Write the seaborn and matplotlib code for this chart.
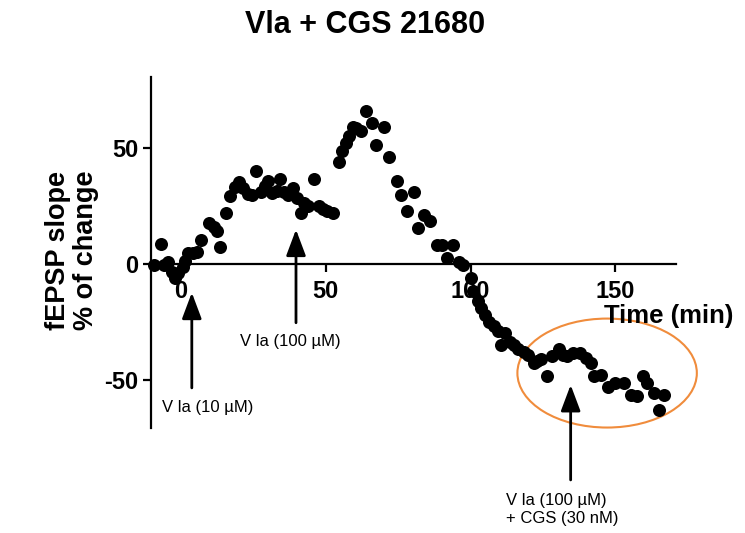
import pandas as pd
import numpy as np
import matplotlib
matplotlib.use('Agg')
import matplotlib.pyplot as plt
from matplotlib.patches import Ellipse
import seaborn as sns

# Data (time in min, fEPSP slope % of change)
time_min = [-9.5, -7.0, -6.0, -4.5, -3.0, -2.0, -1.0, 0.5, 1.5, 2.5, 4.0, 5.5, 7.0,
            9.5, 11.5, 12.5, 13.5, 15.5, 17.0, 18.5, 20.0, 21.5, 23.0, 24.5, 26.0,
            27.5, 29.0, 30.0, 31.5, 33.0, 34.0, 35.5, 37.0, 38.5, 40.0, 41.5, 42.5,
            44.0, 46.0, 47.5, 49.0, 50.5, 52.5, 54.5, 55.5, 57.0, 58.0, 59.5, 60.5,
            62.0, 64.0, 66.0, 67.5, 70.0, 72.0, 74.5, 76.0, 78.0, 80.5, 82.0, 84.0,
            86.0, 88.5, 90.0, 92.0, 94.0, 96.0, 97.5, 100.0, 101.0, 102.5, 103.5,
            105.0, 106.5, 108.0, 109.5, 110.5, 112.0, 113.5, 115.0, 116.5, 118.5,
            120.0, 122.0, 123.0, 124.5, 126.5, 128.0, 130.5, 132.0, 133.5, 135.5,
            138.0, 140.0, 141.5, 142.5, 145.0, 147.5, 150.0, 153.0, 155.5, 157.5,
            159.5, 161.0, 163.5, 165.0, 167.0]
pct_change = [-0.5, 8.5, -0.5, 0.5, -3.5, -6.0, -4.0, -1.5, 1.0, 4.5, 4.5, 5.0, 10.0,
              17.5, 16.0, 14.0, 7.0, 22.0, 29.0, 33.0, 35.0, 32.5, 30.0, 29.5, 40.0,
              31.0, 33.5, 35.5, 30.5, 31.5, 36.5, 31.0, 29.5, 32.5, 28.5, 22.0, 26.0,
              25.0, 36.5, 25.0, 23.5, 22.5, 22.0, 44.0, 48.5, 52.0, 55.0, 59.0, 58.5,
              57.0, 66.0, 60.5, 51.0, 59.0, 46.0, 35.5, 29.5, 22.5, 31.0, 15.5, 21.0,
              18.5, 8.0, 8.0, 2.5, 8.0, 0.5, -0.5, -6.0, -12.0, -16.0, -19.0,
              -22.0, -25.0, -27.0, -29.0, -35.0, -30.0, -34.0, -35.0, -37.0, -38.0,
              -39.5, -43.0, -42.0, -41.0, -48.5, -40.0, -37.0, -39.5, -40.0, -38.5,
              -38.5, -40.5, -43.0, -48.5, -48.0, -53.0, -51.5, -51.5, -56.5, -57.0,
              -48.5, -51.5, -56.0, -63.0, -56.5]

x_ticks = [0, 50, 100, 150]
y_ticks = [-50, 0, 50]

df = pd.DataFrame({'time': time_min, 'change': pct_change})

sns.set_style('ticks')
plt.rcParams['font.family'] = ['Liberation Sans', 'DejaVu Sans']
plt.rcParams['axes.unicode_minus'] = False
for key in ['text.color', 'axes.labelcolor', 'xtick.color', 'ytick.color', 'axes.edgecolor']:
    plt.rcParams[key] = 'black'

fig = plt.figure(figsize=(7.45, 5.33), dpi=100)
ax = fig.add_axes([151 / 745, 1 - 428 / 533, (676 - 151) / 745, (428 - 77) / 533])

sns.scatterplot(x='time', y='change', data=df, color='black', s=88,
                edgecolor='black', linewidth=0, ax=ax, clip_on=False, zorder=3)

ax.set_xlim(-10.4, 171)
ax.set_ylim(-70.9, 80.5)
ax.spines['top'].set_visible(False)
ax.spines['right'].set_visible(False)
ax.spines['bottom'].set_position(('data', 0))
for s in ['left', 'bottom']:
    ax.spines[s].set_linewidth(1.6)
ax.set_xticks(x_ticks)
ax.set_yticks(y_ticks)
ax.tick_params(axis='both', direction='out', length=6, width=1.6, labelsize=17)
ax.tick_params(axis='x', pad=6)
ax.tick_params(axis='y', pad=3)
for lab in ax.get_xticklabels() + ax.get_yticklabels():
    lab.set_fontweight('bold')
ax.set_xlabel('')
ax.set_ylabel('')

# title and axis labels
fig.text(365 / 745, 1 - 25 / 533, 'Vla + CGS 21680', ha='center', va='center',
         fontsize=22, fontweight='bold')
fig.text(72 / 745, 1 - 250 / 533, 'fEPSP slope\n% of change', ha='center', va='center',
         rotation=90, fontsize=19.5, fontweight='bold', linespacing=1.1)
ax.text(146, -22.5, 'Time (min)', ha='left', va='center', fontsize=18.5,
        fontweight='bold', clip_on=False)

# arrows marking drug applications
arrow_kw = dict(arrowstyle='-|>,head_length=0.8,head_width=0.3', color='black',
                lw=2, mutation_scale=20, shrinkA=0, shrinkB=0)
ax.annotate('', xy=(3.7, -12.5), xytext=(3.7, -53.6), arrowprops=arrow_kw,
            annotation_clip=False)
ax.annotate('', xy=(39.7, 14.7), xytext=(39.7, -25.5), arrowprops=arrow_kw,
            annotation_clip=False)
ax.annotate('', xy=(134.6, -52.3), xytext=(134.6, -93.3), arrowprops=arrow_kw,
            annotation_clip=False)

ax.text(-6.7, -62.2, 'V la (10 µM)', ha='left', va='center', fontsize=12, clip_on=False)
ax.text(20.4, -33.6, 'V la (100 µM)', ha='left', va='center', fontsize=12, clip_on=False)
ax.text(112.1, -106, 'V la (100 µM)\n+ CGS (30 nM)', ha='left', va='center',
        fontsize=12, linespacing=1.25, clip_on=False)

ax.add_patch(Ellipse((147.2, -47.2), 62, 47, fill=False, edgecolor='#f08c3c',
                     lw=1.5, clip_on=False, zorder=2))

fig.savefig('out.png', dpi=100)
